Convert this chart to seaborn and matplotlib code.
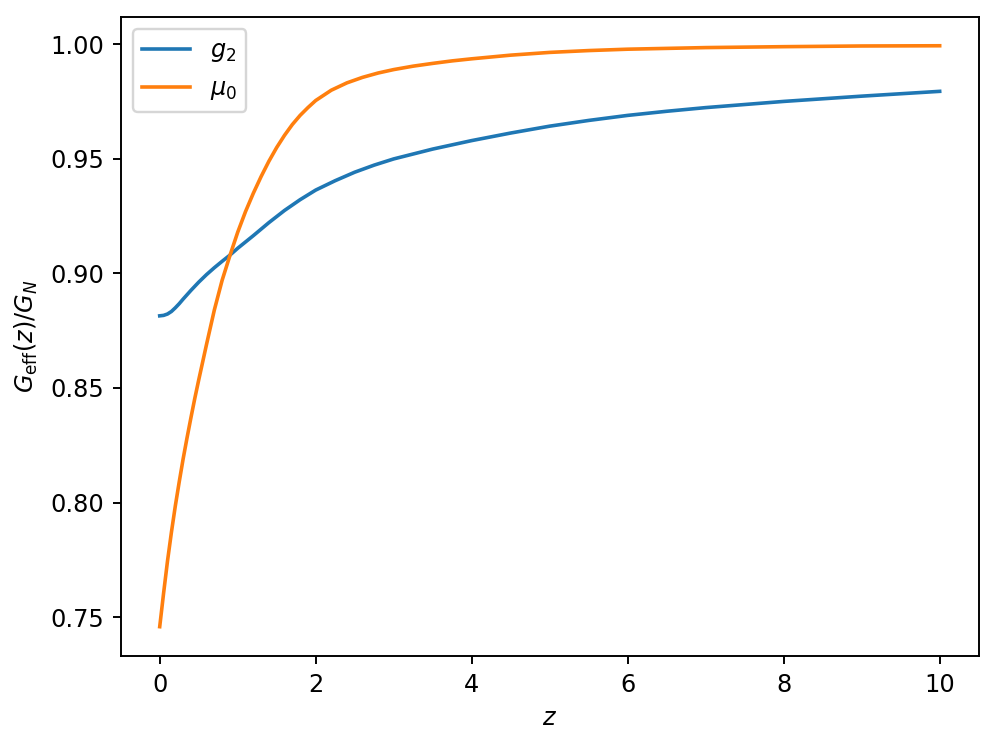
import numpy as np
import pandas as pd
import matplotlib
matplotlib.use("Agg")
import matplotlib.pyplot as plt
import seaborn as sns

# values
z_mu = [0.0, 0.05, 0.1, 0.15, 0.2, 0.25, 0.3, 0.35, 0.4, 0.45, 0.5, 0.6, 0.7,
        0.8, 0.9, 1.0, 1.1, 1.2, 1.3, 1.4, 1.5, 1.6, 1.7, 1.8, 1.9, 2.0, 2.2,
        2.4, 2.6, 2.8, 3.0, 3.25, 3.5, 3.75, 4.0, 4.5, 5.0, 5.5, 6.0, 7.0, 8.0,
        9.0, 10.0]
mu0 = [0.7458, 0.7605, 0.7745, 0.7870, 0.7985, 0.8090, 0.8190, 0.8282, 0.8370,
       0.8455, 0.8535, 0.8690, 0.8840, 0.8970, 0.9078, 0.9180, 0.9270, 0.9350,
       0.9423, 0.9490, 0.9550, 0.9603, 0.9650, 0.9690, 0.9724, 0.9755, 0.9800,
       0.9832, 0.9856, 0.9875, 0.9890, 0.9905, 0.9917, 0.9928, 0.9937, 0.9953,
       0.9965, 0.9973, 0.9979, 0.9986, 0.9990, 0.9993, 0.9994]

z_g = [0.0, 0.05, 0.1, 0.15, 0.2, 0.25, 0.3, 0.4, 0.5, 0.6, 0.7, 0.8, 0.9, 1.0,
       1.2, 1.4, 1.6, 1.8, 2.0, 2.25, 2.5, 2.75, 3.0, 3.5, 4.0, 4.5, 5.0, 5.5,
       6.0, 6.5, 7.0, 8.0, 9.0, 10.0]
g2 = [0.8815, 0.8817, 0.8823, 0.8834, 0.8850, 0.8868, 0.8888, 0.8926, 0.8962,
      0.8995, 0.9025, 0.9053, 0.9080, 0.9110, 0.9165, 0.9222, 0.9275, 0.9322,
      0.9364, 0.9405, 0.9442, 0.9473, 0.9500, 0.9543, 0.9580, 0.9613, 0.9643,
      0.9668, 0.9690, 0.9708, 0.9724, 0.9751, 0.9774, 0.9795]

df_g = pd.DataFrame({"z": z_g, "G": g2})
df_mu = pd.DataFrame({"z": z_mu, "G": mu0})

dpi = 173
fig = plt.figure(figsize=(996 / dpi, 746 / dpi), dpi=dpi)
ax = fig.add_axes([0.1212, 0.121, 0.9826 - 0.1212, 0.9776 - 0.121])

sns.lineplot(data=df_g, x="z", y="G", ax=ax, color="tab:blue", label=r"$g_2$")
sns.lineplot(data=df_mu, x="z", y="G", ax=ax, color="tab:orange", label=r"$\mu_0$")

ax.set_xlabel(r"$z$")
ax.set_ylabel(r"$G_{\rm eff}(z)/G_N$")
ax.set_yticks([0.75, 0.80, 0.85, 0.90, 0.95, 1.00])
ax.legend(loc="upper left")

fig.savefig("out.png", dpi=dpi)
